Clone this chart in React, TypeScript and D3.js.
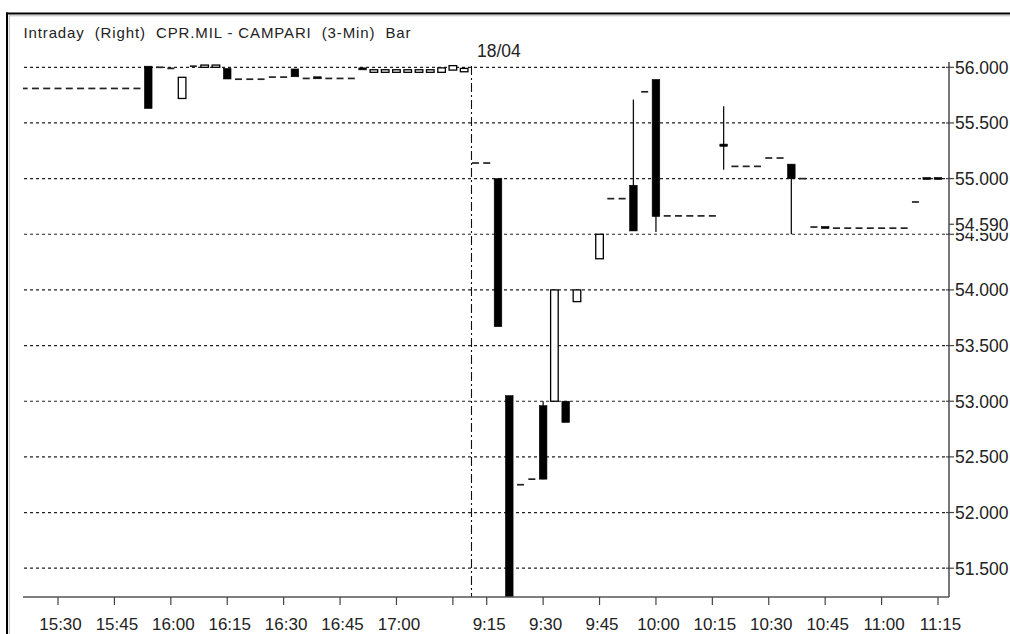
import React from 'react';
import * as d3 from 'd3';

// ---- Data (3-minute bars, slot index = 3-minute step from 15:30 of day 1) ----
const candleSlot = [
  -3, -2, -1, 0, 1, 2, 3, 4, 5, 6, 7,
  8, 9, 10, 11, 12, 13, 14, 15, 16, 17, 18, 19, 20, 21, 22, 23, 24, 25, 26, 27,
  28, 29, 30, 31, 32, 33, 34, 35, 36,
  37, 38, 39, 40, 41, 42, 43, 44, 45, 46, 48, 49, 50, 51, 52, 53,
  54, 55, 56, 57, 58, 59, 60, 61, 62, 63, 64, 65, 66, 67, 68,
  69, 70, 71, 72, 73, 74, 75, 76, 77, 78,
];
const candleOpen = [
  55.81, 55.81, 55.81, 55.81, 55.81, 55.81, 55.81, 55.81, 55.81, 55.81, 55.81,
  56.01, 56.0, 55.99, 55.72, 56.01, 56.0, 56.0, 55.99, 55.893, 55.893, 55.893, 55.912, 55.912, 55.985, 55.9, 55.915, 55.9, 55.9, 55.9, 55.995,
  55.955, 55.955, 55.955, 55.955, 55.955, 55.955, 55.955, 55.975, 55.96,
  55.14, 55.14, 55.0, 53.05, 52.25, 52.3, 52.96, 53.0, 53.0, 53.895, 54.28, 54.82, 54.82, 54.94, 55.78, 55.89,
  54.665, 54.665, 54.665, 54.665, 54.665, 55.31, 55.11, 55.11, 55.11, 55.185, 55.185, 55.13, 55.0, 54.565, 54.57,
  54.555, 54.555, 54.555, 54.555, 54.555, 54.555, 54.555, 54.79, 55.01, 55.01,
];
const candleHigh = [
  55.81, 55.81, 55.81, 55.81, 55.81, 55.81, 55.81, 55.81, 55.81, 55.81, 55.81,
  56.01, 56.0, 55.99, 55.91, 56.01, 56.02, 56.02, 55.99, 55.893, 55.893, 55.893, 55.912, 55.912, 55.985, 55.9, 55.915, 55.9, 55.9, 55.9, 55.995,
  55.978, 55.978, 55.978, 55.978, 55.978, 55.978, 55.995, 56.015, 55.99,
  55.14, 55.14, 55.0, 53.05, 52.25, 52.3, 53.0, 54.0, 53.0, 54.0, 54.5, 54.82, 54.82, 55.71, 55.78, 55.89,
  54.665, 54.665, 54.665, 54.665, 54.665, 55.65, 55.11, 55.11, 55.11, 55.185, 55.185, 55.13, 55.0, 54.565, 54.57,
  54.555, 54.555, 54.555, 54.555, 54.555, 54.555, 54.555, 54.79, 55.01, 55.01,
];
const candleLow = [
  55.81, 55.81, 55.81, 55.81, 55.81, 55.81, 55.81, 55.81, 55.81, 55.81, 55.81,
  55.63, 56.0, 55.99, 55.72, 56.01, 56.0, 56.0, 55.895, 55.893, 55.893, 55.893, 55.912, 55.912, 55.915, 55.9, 55.9, 55.9, 55.9, 55.9, 55.98,
  55.955, 55.955, 55.955, 55.955, 55.955, 55.955, 55.955, 55.975, 55.96,
  55.14, 55.14, 53.67, 51.15, 52.25, 52.3, 52.3, 53.0, 52.81, 53.895, 54.28, 54.82, 54.82, 54.53, 55.78, 54.52,
  54.665, 54.665, 54.665, 54.665, 54.665, 55.08, 55.11, 55.11, 55.11, 55.185, 55.185, 54.5, 55.0, 54.565, 54.56,
  54.555, 54.555, 54.555, 54.555, 54.555, 54.555, 54.555, 54.79, 55.0, 55.0,
];
const candleClose = [
  55.81, 55.81, 55.81, 55.81, 55.81, 55.81, 55.81, 55.81, 55.81, 55.81, 55.81,
  55.63, 56.0, 55.99, 55.91, 56.01, 56.02, 56.02, 55.895, 55.893, 55.893, 55.893, 55.912, 55.912, 55.915, 55.9, 55.9, 55.9, 55.9, 55.9, 55.98,
  55.978, 55.978, 55.978, 55.978, 55.978, 55.978, 55.995, 56.015, 55.99,
  55.14, 55.14, 53.67, 51.15, 52.25, 52.3, 52.3, 54.0, 52.81, 54.0, 54.5, 54.82, 54.82, 54.53, 55.78, 54.66,
  54.665, 54.665, 54.665, 54.665, 54.665, 55.29, 55.11, 55.11, 55.11, 55.185, 55.185, 55.0, 55.0, 54.565, 54.56,
  54.555, 54.555, 54.555, 54.555, 54.555, 54.555, 54.555, 54.79, 55.0, 55.0,
];

const xTickSlots = [0, 5, 10, 15, 20, 25, 30, 35, 38, 43, 48, 53, 58, 63, 68, 73, 78];
const xTickLabels = ['15:30', '15:45', '16:00', '16:15', '16:30', '16:45', '17:00', '', '9:15', '9:30', '9:45', '10:00', '10:15', '10:30', '10:45', '11:00', '11:15'];
const yTickValues = [56, 55.5, 55, 54.5, 54, 53.5, 53, 52.5, 52, 51.5];
const lastPrice = 54.59;
const dayBreakSlot = 36.65;
const dayLabel = '18/04';
const chartTitle = 'Intraday  (Right)  CPR.MIL - CAMPARI  (3-Min)  Bar';

const FONT = '"Liberation Sans", Arial, sans-serif';

export default function App() {
  const W = 1010;
  const H = 634;
  const plotLeft = 23;
  const plotRight = 949;
  const plotTop = 58;
  const plotBottom = 597;

  const x = d3.scaleLinear().domain([0, 78]).range([58, 938]);
  const y = d3.scaleLinear().domain([51.5, 56]).range([568.2, 67.3]);
  const fmt = d3.format('.3f');

  const bodyW = 7.6;
  const dojiW = 7;

  const candles = candleSlot.map((s, i) => {
    const o = candleOpen[i];
    const h = candleHigh[i];
    const l = candleLow[i];
    const c = candleClose[i];
    const cx = x(s);
    const parts: React.ReactNode[] = [];
    const yo = y(o);
    const yc = y(c);
    if (h > Math.max(o, c) || l < Math.min(o, c)) {
      parts.push(
        <line key="w" x1={cx} x2={cx} y1={y(h)} y2={y(l)} stroke="#111" strokeWidth={1.3} />
      );
    }
    if (o === c) {
      parts.push(
        <line key="d" x1={cx - dojiW / 2} x2={cx + dojiW / 2} y1={yo} y2={yo} stroke="#222" strokeWidth={1.7} />
      );
    } else {
      const top = Math.min(yo, yc);
      let hgt = Math.abs(yo - yc);
      if (hgt < 2) hgt = 2;
      const down = c < o;
      parts.push(
        <rect
          key="b"
          x={cx - bodyW / 2}
          y={top}
          width={bodyW}
          height={hgt}
          fill={down ? '#000' : '#fff'}
          stroke="#000"
          strokeWidth={down ? 0.6 : 1.3}
        />
      );
    }
    return <g key={i}>{parts}</g>;
  });

  const xb = x(dayBreakSlot);
  const yLast = y(lastPrice);

  return (
    <svg
      width={W}
      height={H}
      style={{ position: 'absolute', left: 0, top: 0, background: '#fff' }}
      fontFamily={FONT}
    >
      <rect x={0} y={0} width={W} height={H} fill="#fff" />
      <defs>
        <clipPath id="plotClip">
          <rect x={plotLeft} y={plotTop} width={plotRight - plotLeft} height={plotBottom - plotTop} />
        </clipPath>
      </defs>

      {/* frame */}
      <line x1={6} x2={W} y1={13.5} y2={13.5} stroke="#000" strokeWidth={2} />
      <line x1={7} x2={7} y1={12.5} y2={H} stroke="#000" strokeWidth={2} />
      <line x1={9} x2={W} y1={15.8} y2={15.8} stroke="#bbb" strokeWidth={1} />
      <line x1={9.3} x2={9.3} y1={15.5} y2={H} stroke="#bbb" strokeWidth={1} />

      {/* title */}
      <text
        x={23.5}
        y={37.5}
        fontSize={15}
        fill="#222"
        textLength={387}
        lengthAdjust="spacing"
        style={{ whiteSpace: 'pre' }}
      >
        {chartTitle}
      </text>

      {/* grid */}
      {yTickValues.map((v) => (
        <line
          key={'g' + v}
          x1={plotLeft + 1}
          x2={plotRight}
          y1={y(v)}
          y2={y(v)}
          stroke="#222"
          strokeWidth={1.2}
          strokeDasharray="3,3"
        />
      ))}

      {/* day separator */}
      <line x1={xb} x2={xb} y1={66} y2={plotBottom} stroke="#111" strokeWidth={1.1} strokeDasharray="9,3,2,3" />
      <text x={477} y={56.5} fontSize={17.5} fill="#222">
        {dayLabel}
      </text>

      {/* candles */}
      <g clipPath="url(#plotClip)">{candles}</g>

      {/* right axis */}
      <line x1={plotRight} x2={plotRight} y1={62} y2={plotBottom} stroke="#555" strokeWidth={1.6} />
      {yTickValues.map((v) => (
        <g key={'yt' + v}>
          <line x1={plotRight - 3} x2={plotRight + 5} y1={y(v)} y2={y(v)} stroke="#444" strokeWidth={1.2} />
          <text x={955} y={y(v) + 6.5} fontSize={17.5} fill="#222">
            {fmt(v)}
          </text>
        </g>
      ))}
      <rect x={952} y={yLast - 7.5} width={60} height={16} fill="#fff" />
      <line x1={plotRight} x2={plotRight + 5} y1={yLast} y2={yLast} stroke="#444" strokeWidth={1.2} />
      <text x={955} y={yLast + 6.5} fontSize={17.5} fill="#222">
        {fmt(lastPrice)}
      </text>

      {/* bottom axis */}
      <line x1={plotLeft} x2={plotRight} y1={plotBottom} y2={plotBottom} stroke="#555" strokeWidth={1.6} />
      {xTickSlots.map((s, i) => (
        <g key={'xt' + i}>
          <line x1={x(s)} x2={x(s)} y1={plotBottom} y2={plotBottom + 8} stroke="#444" strokeWidth={1.2} />
          {xTickLabels[i] && (
            <text x={x(s) + 2.5} y={630} fontSize={17} fill="#222" textAnchor="middle">
              {xTickLabels[i]}
            </text>
          )}
        </g>
      ))}
    </svg>
  );
}
